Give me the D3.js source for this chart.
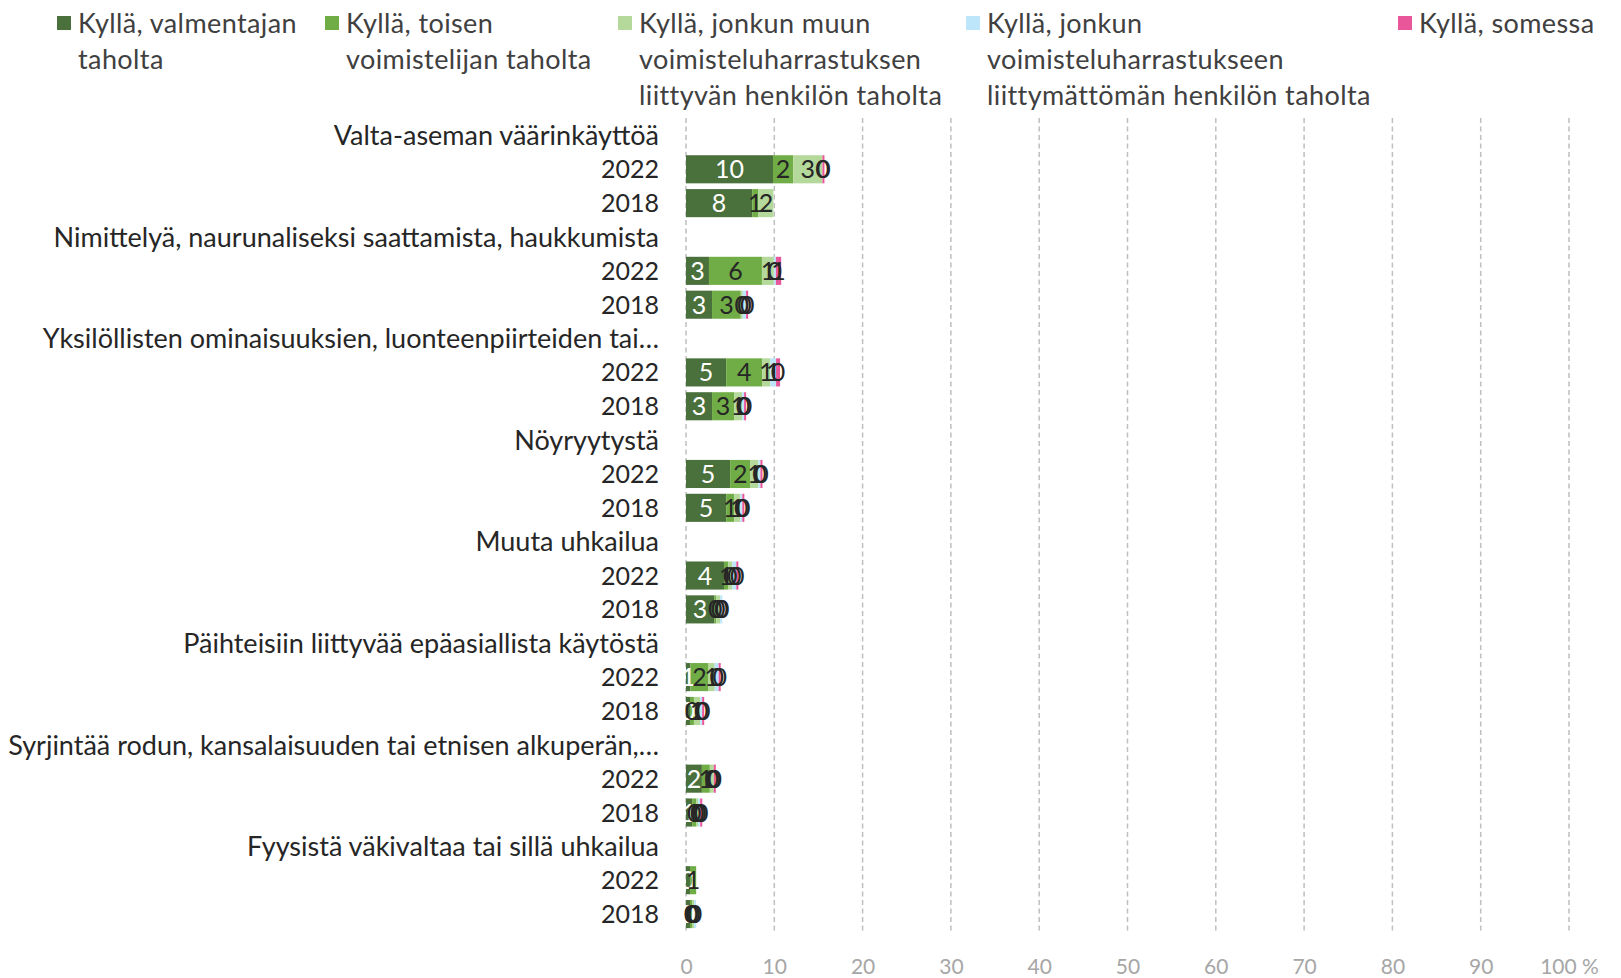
<!DOCTYPE html>
<html>
<head>
<meta charset="utf-8">
<script src="https://cdn.jsdelivr.net/npm/d3@7"></script>
<style>
  body { margin: 0; background: #fff; }
  text { font-family: Lato, "Open Sans", sans-serif; }
</style>
</head>
<body>
<script>
//constants
const w = 1621;
const h = 978;

// data
const categories = [
  "Valta-aseman väärinkäyttöä",
  "Nimittelyä, naurunaliseksi saattamista, haukkumista",
  "Yksilöllisten ominaisuuksien, luonteenpiirteiden tai…",
  "Nöyryytystä",
  "Muuta uhkailua",
  "Päihteisiin liittyvää epäasiallista käytöstä",
  "Syrjintää rodun, kansalaisuuden tai etnisen alkuperän,…",
  "Fyysistä väkivaltaa tai sillä uhkailua"
];
const years = ["2022", "2018"];

const seriesNames = [
  ["Kyllä, valmentajan", "taholta"],
  ["Kyllä, toisen", "voimistelijan taholta"],
  ["Kyllä, jonkun muun", "voimisteluharrastuksen", "liittyvän henkilön taholta"],
  ["Kyllä, jonkun", "voimisteluharrastukseen", "liittymättömän henkilön taholta"],
  ["Kyllä, somessa"]
];
const colors = ["#4a703c", "#70ad47", "#b4d99b", "#bde6fa", "#e9579a"];

// values in order: category 1 2022, category 1 2018, category 2 2022, ...
const valmentaja =   [9.85, 7.5, 2.6, 2.95, 4.55, 2.95, 5.0, 4.55, 4.3, 3.2, 0.5, 0.45, 1.8, 0.7, 0.45, 0.45];
const voimistelija = [2.3, 0.7, 6.0, 3.25, 4.1, 2.5, 2.3, 0.9, 0.5, 0.23, 2.05, 0.45, 0.9, 0.45, 0.7, 0.23];
const muuHenkilo =   [3.3, 1.7, 1.35, 0.23, 0.9, 0.9, 0.9, 0.7, 0.45, 0.45, 0.7, 0.7, 0.45, 0.23, null, 0.23];
const ulkopuolinen = [0, null, 0.23, 0.38, 0.65, 0.23, 0.23, 0.23, 0.45, 0.23, 0.45, 0.23, 0, 0.23, null, 0.23];
const somessa =      [0.23, null, 0.6, 0.23, 0.45, 0.23, 0.23, 0.23, 0.23, 0, 0.23, 0.23, 0.23, 0.23, null, null];
const allSeries = [valmentaja, voimistelija, muuHenkilo, ulkopuolinen, somessa];

const xTicks = [0, 10, 20, 30, 40, 50, 60, 70, 80, 90, 100];

// rows: category header row, then one row per year
const rows = [];
categories.forEach((c, ci) => {
  rows.push({ id: "c" + ci, label: c, header: true });
  years.forEach((y, yi) => {
    rows.push({ id: "c" + ci + "y" + yi, label: y, header: false, index: ci * 2 + yi });
  });
});

const xScale = d3.scaleLinear().domain([0, 100]).range([686, 1569]);
const yScale = d3.scaleBand()
  .domain(rows.map(r => r.id))
  .range([118.5, 931])
  .paddingInner(0.17)
  .paddingOuter(0.085);

const svg = d3.select("body").append("svg")
  .attr("width", w)
  .attr("height", h);

// gridlines
svg.append("g").selectAll("line")
  .data(xTicks)
  .enter()
  .append("line")
  .attr("x1", d => xScale(d))
  .attr("x2", d => xScale(d))
  .attr("y1", 118)
  .attr("y2", 931)
  .attr("stroke", "#bfbfbf")
  .attr("stroke-width", 1.5)
  .attr("stroke-dasharray", "5,3.5");

// x axis labels
const xAxis = d3.axisBottom(xScale)
  .tickValues(xTicks)
  .tickSize(0)
  .tickFormat(d => d === 100 ? "100 %" : d);
const gx = svg.append("g")
  .attr("transform", "translate(0,956)")
  .call(xAxis);
gx.select(".domain").remove();
gx.selectAll("text")
  .attr("fill", "#a6a6a6")
  .attr("font-size", 21)
  .style("font-family", "Lato, sans-serif");

// stacked segments
const segments = [];
rows.filter(r => !r.header).forEach(r => {
  let acc = 0;
  allSeries.forEach((s, si) => {
    const v = s[r.index];
    if (v === null) return;
    segments.push({ row: r.id, series: si, x0: acc, x1: acc + v, value: v });
    acc += v;
  });
});

svg.append("g").selectAll("rect")
  .data(segments)
  .enter()
  .append("rect")
  .attr("x", d => xScale(d.x0))
  .attr("y", d => yScale(d.row))
  .attr("width", d => xScale(d.x1) - xScale(d.x0))
  .attr("height", yScale.bandwidth())
  .attr("fill", d => colors[d.series]);

// data labels
svg.append("g").selectAll("text")
  .data(segments)
  .enter()
  .append("text")
  .attr("x", d => (xScale(d.x0) + xScale(d.x1)) / 2)
  .attr("y", d => yScale(d.row) + yScale.bandwidth() / 2)
  .attr("dy", "0.36em")
  .attr("text-anchor", "middle")
  .attr("font-size", 25)
  .attr("fill", d => d.series === 0 ? "#ffffff" : "#262626")
  .text(d => Math.round(d.value));

// row labels
svg.append("g").selectAll("text")
  .data(rows)
  .enter()
  .append("text")
  .attr("x", 659)
  .attr("y", d => yScale(d.id) + yScale.bandwidth() / 2)
  .attr("dy", "0.36em")
  .attr("text-anchor", "end")
  .attr("font-size", d => d.header ? 27 : 25)
  .attr("fill", "#262626")
  .text(d => d.label);

// legend
const legendX = [57, 325, 618, 966, 1398];
const legend = svg.append("g").selectAll("g")
  .data(seriesNames)
  .enter()
  .append("g")
  .attr("transform", (d, i) => "translate(" + legendX[i] + ",0)");

legend.append("rect")
  .attr("x", 0)
  .attr("y", 16)
  .attr("width", 14)
  .attr("height", 14)
  .attr("fill", (d, i) => colors[i]);

legend.selectAll("text")
  .data(d => d)
  .enter()
  .append("text")
  .attr("x", 21)
  .attr("y", (d, i) => 23 + i * 36)
  .attr("dy", "0.36em")
  .attr("font-size", 27)
  .attr("letter-spacing", "0.4px")
  .attr("fill", "#404040")
  .text(d => d);
</script>
</body>
</html>
